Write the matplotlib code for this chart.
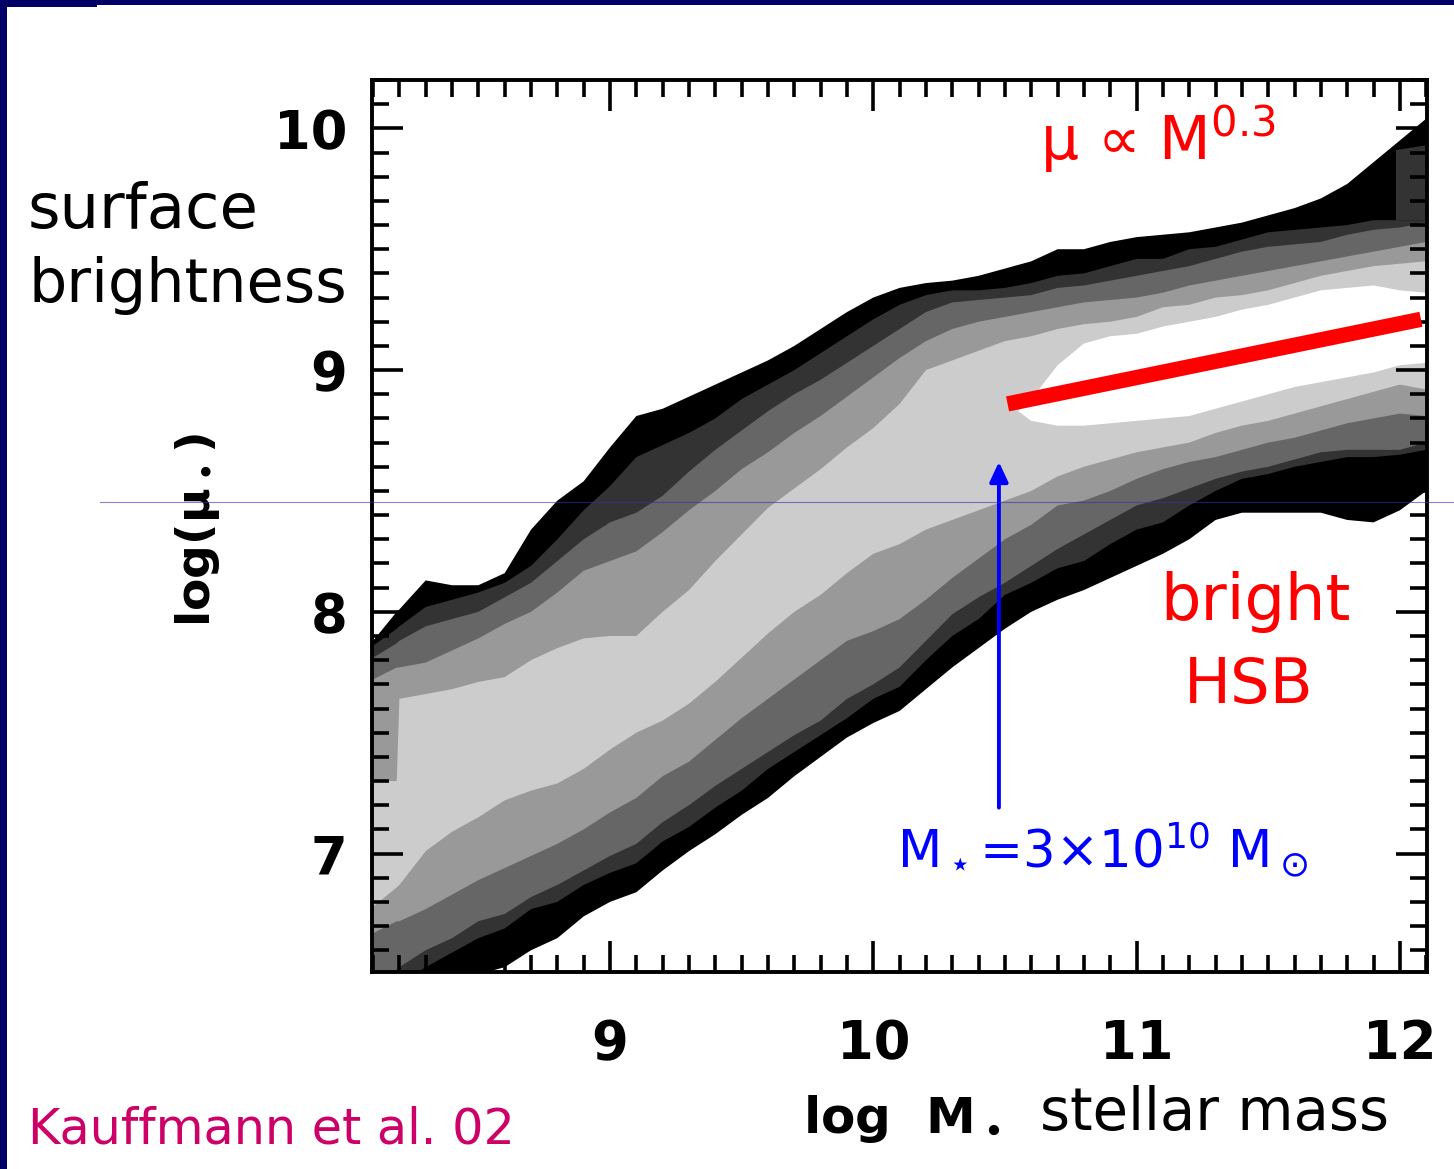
import numpy as np
import matplotlib
matplotlib.use("Agg")
import matplotlib.pyplot as plt
from matplotlib.patches import Rectangle
from matplotlib.lines import Line2D

# ---------------------------------------------------------------------------
# Conditional density of galaxies in the (log M*, log mu*) plane.
# Each shade is bounded by a lower and an upper edge sampled on log_mass.
# ---------------------------------------------------------------------------
log_mass = [8.10, 8.19, 8.20, 8.30, 8.40, 8.50, 8.60, 8.70, 8.80, 8.90, 9.00,
            9.10, 9.20, 9.30, 9.40, 9.50, 9.60, 9.70, 9.80, 9.90, 10.00,
            10.10, 10.20, 10.30, 10.40, 10.50, 10.60, 10.70, 10.80, 10.90, 11.00,
            11.10, 11.20, 11.30, 11.40, 11.50, 11.60, 11.70, 11.80, 11.90, 12.00,
            12.10]

# outermost contour (black)
black_hi = [7.88, 8.00, 8.01, 8.13, 8.11, 8.11, 8.16, 8.34, 8.46, 8.54, 8.68,
            8.81, 8.84, 8.89, 8.94, 8.99, 9.04, 9.10, 9.17, 9.24, 9.30,
            9.34, 9.36, 9.37, 9.39, 9.42, 9.45, 9.50, 9.50, 9.53, 9.55,
            9.56, 9.57, 9.59, 9.61, 9.64, 9.67, 9.71, 9.77, 9.86, 9.95,
            10.04]
black_lo = [6.27, 6.36, 6.35, 6.41, 6.46, 6.50, 6.53, 6.60, 6.65, 6.74, 6.80,
            6.84, 6.93, 7.01, 7.08, 7.16, 7.23, 7.32, 7.40, 7.48, 7.54,
            7.59, 7.68, 7.77, 7.85, 7.93, 8.00, 8.05, 8.09, 8.14, 8.19,
            8.24, 8.30, 8.38, 8.41, 8.41, 8.41, 8.41, 8.38, 8.37, 8.42,
            8.50]

# second contour (dark grey)
dark_hi = [7.86, 7.93, 7.94, 8.02, 8.05, 8.08, 8.12, 8.19, 8.30, 8.42, 8.52,
           8.64, 8.69, 8.74, 8.80, 8.88, 8.94, 9.00, 9.07, 9.14, 9.21,
           9.27, 9.31, 9.33, 9.33, 9.34, 9.36, 9.39, 9.40, 9.43, 9.46,
           9.46, 9.50, 9.51, 9.54, 9.57, 9.58, 9.59, 9.60, 9.62, 9.62,
           9.62]
dark_lo = [6.39, 6.45, 6.46, 6.53, 6.59, 6.65, 6.69, 6.77, 6.80, 6.87, 6.92,
           6.96, 7.05, 7.11, 7.19, 7.26, 7.35, 7.42, 7.49, 7.56, 7.64,
           7.69, 7.80, 7.90, 7.97, 8.07, 8.12, 8.18, 8.21, 8.28, 8.34,
           8.37, 8.44, 8.50, 8.55, 8.57, 8.60, 8.62, 8.64, 8.64, 8.65,
           8.67]
# detached dark-grey patch at the high-mass edge
dark_patch_mass = [11.985, 12.10]
dark_patch_lo = [9.62, 9.62]
dark_patch_hi = [9.91, 9.93]

# third contour (mid grey)
mid_hi = [7.81, 7.87, 7.88, 7.94, 7.97, 8.00, 8.06, 8.12, 8.21, 8.30, 8.37,
          8.41, 8.48, 8.58, 8.67, 8.75, 8.83, 8.90, 8.96, 9.03, 9.10,
          9.17, 9.24, 9.28, 9.29, 9.30, 9.31, 9.34, 9.35, 9.37, 9.39,
          9.41, 9.43, 9.46, 9.49, 9.51, 9.52, 9.53, 9.56, 9.58, 9.59,
          9.61]
mid_lo = [6.46, 6.52, 6.53, 6.60, 6.65, 6.72, 6.75, 6.82, 6.87, 6.93, 6.99,
          7.04, 7.13, 7.20, 7.28, 7.35, 7.42, 7.49, 7.55, 7.64, 7.70,
          7.77, 7.88, 7.99, 8.06, 8.12, 8.19, 8.26, 8.32, 8.38, 8.44,
          8.47, 8.51, 8.55, 8.58, 8.60, 8.63, 8.66, 8.67, 8.67, 8.67,
          8.70]

# fourth contour (light grey)
light_hi = [7.72, 7.77, 7.77, 7.79, 7.84, 7.89, 7.95, 8.00, 8.08, 8.17, 8.21,
            8.25, 8.33, 8.42, 8.50, 8.59, 8.66, 8.74, 8.81, 8.89, 8.97,
            9.05, 9.12, 9.17, 9.20, 9.22, 9.24, 9.26, 9.28, 9.29, 9.30,
            9.32, 9.35, 9.37, 9.39, 9.41, 9.43, 9.45, 9.47, 9.49, 9.51,
            9.53]
light_lo = [6.67, 6.72, 6.72, 6.77, 6.83, 6.89, 6.94, 6.99, 7.04, 7.10, 7.17,
            7.23, 7.32, 7.38, 7.47, 7.56, 7.64, 7.72, 7.80, 7.88, 7.92,
            7.97, 8.05, 8.14, 8.22, 8.30, 8.36, 8.44, 8.46, 8.50, 8.55,
            8.59, 8.62, 8.64, 8.67, 8.70, 8.72, 8.75, 8.78, 8.80, 8.82,
            8.81]

# fifth contour (pale grey)
pale_hi = [7.30, 7.30, 7.64, 7.66, 7.68, 7.71, 7.73, 7.80, 7.85, 7.89, 7.90,
           7.90, 8.00, 8.09, 8.21, 8.32, 8.43, 8.51, 8.59, 8.68, 8.76,
           8.86, 9.00, 9.04, 9.08, 9.12, 9.14, 9.17, 9.19, 9.20, 9.22,
           9.26, 9.27, 9.30, 9.31, 9.33, 9.36, 9.39, 9.41, 9.43, 9.44,
           9.45]
pale_lo = [6.78, 6.86, 6.87, 7.01, 7.09, 7.15, 7.22, 7.26, 7.29, 7.35, 7.43,
           7.50, 7.55, 7.62, 7.71, 7.81, 7.91, 8.00, 8.07, 8.16, 8.24,
           8.28, 8.34, 8.38, 8.42, 8.46, 8.50, 8.56, 8.60, 8.63, 8.66,
           8.68, 8.70, 8.74, 8.77, 8.79, 8.82, 8.85, 8.88, 8.91, 8.94,
           8.92]

# innermost contour (white peak at high mass)
peak_mass = [10.55, 10.60, 10.70, 10.80, 10.90, 11.00, 11.10, 11.20, 11.30,
             11.40, 11.50, 11.60, 11.70, 11.80, 11.90, 12.00, 12.10]
peak_hi = [8.83, 8.88, 9.02, 9.11, 9.14, 9.15, 9.18, 9.20, 9.22,
           9.25, 9.27, 9.30, 9.33, 9.34, 9.35, 9.33, 9.32]
peak_lo = [8.83, 8.79, 8.77, 8.77, 8.78, 8.79, 8.80, 8.81, 8.84,
           8.87, 8.90, 8.93, 8.95, 8.97, 8.99, 9.02, 9.03]

shades = ["#000000", "#333333", "#666666", "#999999", "#cccccc", "#ffffff"]

# mu ~ M^0.3 relation for massive galaxies
fit_mass = [10.51, 12.08]
fit_mu = [8.86, 9.21]

# transition mass M* = 3e10 Msun
transition_mass = np.log10(3e10)
arrow_mu = [7.19, 8.62]

mass_ticks = [9, 10, 11, 12]
mu_ticks = [7, 8, 9, 10]
mass_range = (8.096, 12.103)
mu_range = (6.51, 10.20)

# ---------------------------------------------------------------------------
W, H = 1454, 1169
fig = plt.figure(figsize=(W / 100, H / 100), dpi=100)
fig.patch.set_facecolor("white")


def fx(px):
    return px / W


def fy(py):
    return 1 - py / H


ax = fig.add_axes([fx(372), fy(972), (1427 - 372) / W, (972 - 80) / H])
ax.set_xlim(*mass_range)
ax.set_ylim(*mu_range)

bands = [(black_lo, black_hi), (dark_lo, dark_hi), (mid_lo, mid_hi),
         (light_lo, light_hi), (pale_lo, pale_hi)]
for (lo, hi), shade in zip(bands, shades[:5]):
    ax.fill_between(log_mass, lo, hi, facecolor=shade, edgecolor="none",
                    lw=0, zorder=1)
ax.fill_between(dark_patch_mass, dark_patch_lo, dark_patch_hi,
                facecolor=shades[1], edgecolor="none", lw=0, zorder=1)
ax.fill_between(peak_mass, peak_lo, peak_hi, facecolor=shades[5],
                edgecolor="none", lw=0, zorder=1)

ax.plot(fit_mass, fit_mu, color="#ff0000", lw=11, solid_capstyle="butt",
        zorder=3)

ax.annotate("", xy=(transition_mass, arrow_mu[1]),
            xytext=(transition_mass, arrow_mu[0]),
            arrowprops=dict(arrowstyle="-|>,head_length=0.6,head_width=0.28",
                            mutation_scale=20, color="#0000ff", lw=2.8,
                            shrinkA=0, shrinkB=0),
            zorder=4)

# frame and ticks
for sp in ax.spines.values():
    sp.set_linewidth(2.8)
    sp.set_color("black")
    sp.set_zorder(5)
ax.set_xticks(mass_ticks, [str(t) for t in mass_ticks])
ax.set_yticks(mu_ticks, [str(t) for t in mu_ticks])
ax.set_xticks(np.round(np.arange(8.1, 12.11, 0.1), 1), minor=True)
ax.set_yticks(np.round(np.arange(6.6, 10.21, 0.1), 1), minor=True)
ax.tick_params(which="both", direction="in", top=True, right=True,
               color="black", width=2.6, zorder=6)
ax.tick_params(which="major", length=22)
ax.tick_params(which="minor", length=12)
ax.tick_params(axis="x", which="major", pad=33, labelsize=38)
ax.tick_params(axis="y", which="major", pad=18, labelsize=38)
for lab in ax.get_xticklabels() + ax.get_yticklabels():
    lab.set_fontweight("bold")
ax.set_axisbelow(False)

# labels
fig.text(fx(197), fy(530), r"log(μ$_\bullet$)", rotation=90, ha="center",
         va="center", fontsize=34, fontweight="bold", color="black")
fig.text(fx(803), fy(1133), r"log  M$_\bullet$", ha="left", va="baseline",
         fontsize=36, fontweight="bold", color="black")
fig.text(fx(1040), fy(1130), "stellar mass", ha="left", va="baseline",
         fontsize=41.5, color="black")
fig.text(fx(28), fy(228), "surface", ha="left", va="baseline",
         fontsize=45, color="black")
fig.text(fx(28), fy(302), "brightness", ha="left", va="baseline",
         fontsize=43.5, color="black")
fig.text(fx(28), fy(1143), "Kauffmann et al. 02", ha="left", va="baseline",
         fontsize=35.5, color="#cc0066")

fig.text(fx(1040), fy(160), r"μ ∝ M$^{\mathregular{0.3}}$", ha="left",
         va="baseline", fontsize=43, color="#ff0000")
fig.text(fx(1255), fy(620), "bright", ha="center", va="baseline",
         fontsize=46, color="#ff0000")
fig.text(fx(1249), fy(703), "HSB", ha="center", va="baseline",
         fontsize=45, color="#ff0000")
fig.text(fx(897), fy(868),
         r"M$_\star$=3×10$^{\mathregular{10}}$ M$_\odot$",
         ha="left", va="baseline", fontsize=37, color="#0000ff")

# slide frame
navy = "#000066"
fig.patches.append(Rectangle((0, fy(5)), 1, 5 / H, transform=fig.transFigure,
                             facecolor=navy, edgecolor="none", zorder=10))
fig.patches.append(Rectangle((0, fy(7)), fx(97), 7 / H,
                             transform=fig.transFigure, facecolor=navy,
                             edgecolor="none", zorder=10))
fig.patches.append(Rectangle((0, 0), fx(7), 1, transform=fig.transFigure,
                             facecolor=navy, edgecolor="none", zorder=10))
fig.lines.append(Line2D([fx(100), 1], [fy(502), fy(502)],
                        transform=fig.transFigure, color="#3333aa",
                        alpha=0.6, lw=0.8, zorder=20))

fig.savefig("out.png", dpi=100, facecolor="white")
